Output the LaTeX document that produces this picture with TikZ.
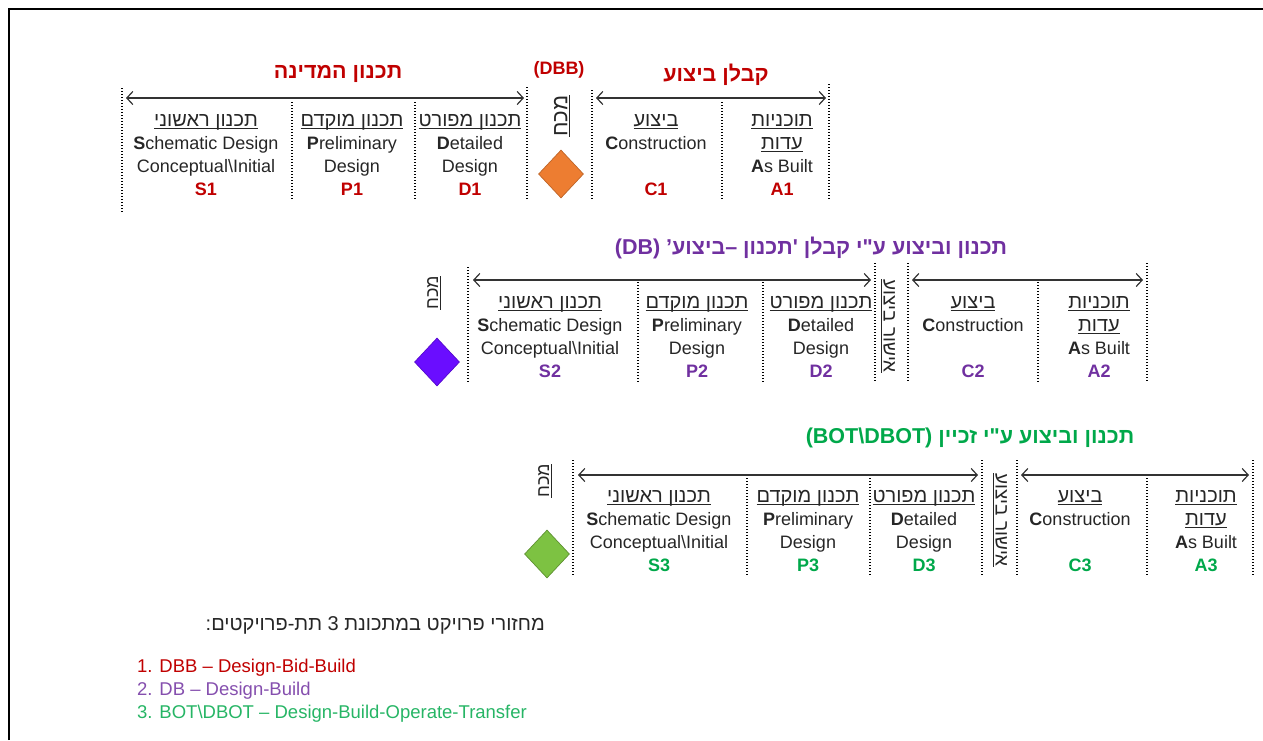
\documentclass[tikz,border=0pt]{standalone}
\usepackage{fontspec}
\setmainfont{Liberation Sans}
\newfontfamily\heb[Script=Hebrew]{Liberation Sans}
\TeXXeTstate=1
\usetikzlibrary{arrows.meta,shapes.geometric}
\definecolor{cred}{HTML}{C00000}
\definecolor{cpur}{HTML}{7030A0}
\definecolor{cgrn}{HTML}{00A84A}
\definecolor{corg}{HTML}{ED7D31}
\definecolor{cvio}{HTML}{6A0DFF}
\definecolor{clime}{HTML}{7DC242}
\newcommand\hr[1]{{\heb\beginR #1\endR}}
\newcommand\hu[1]{\setbox0\hbox{\hr{#1}}\rlap{\rule[-2.6pt]{\wd0}{0.9pt}}\box0}
\newcommand\hcol[1]{{\fontsize{20}{23}\selectfont\hu{#1}}}
\tikzset{
  col/.style={align=center, inner sep=0pt, font=\fontsize{18}{23}\selectfont, text=black!85},
  sepline/.style={line width=1.3pt, dash pattern=on 1.3pt off 1.7pt, black},
  arr/.style={{Straight Barb[length=6pt,width=13pt]}-{Straight Barb[length=6pt,width=13pt]}, line width=1.2pt, black!80},
  ttl/.style={inner sep=0pt, font=\heb\bfseries\fontsize{21.5}{24}\selectfont},
  rot/.style={inner sep=0pt, text=black!85},
  dia/.style={diamond, inner sep=0pt, minimum width=45pt, minimum height=48pt, line width=0.7pt},
  leg/.style={anchor=west, inner sep=0pt, font=\fontsize{18.5}{21}\selectfont}
}
\begin{document}
\begin{tikzpicture}[x=1pt,y=-1pt]
\useasboundingbox (0,0) rectangle (1263,740);
\draw[line width=1.3pt] (9,740) -- (9,9) -- (1263,9);

% ---------- Row 1 : DBB ----------
\node[ttl, text=cred] (t1a) at (338,74) {\beginR תכנון המדינה\endR};
\node[inner sep=0pt, text=cred, font=\bfseries\fontsize{18}{20}\selectfont] (t1b) at (559,70) {(DBB)};
\node[ttl, text=cred] (t1c) at (716,75) {\beginR קבלן ביצוע\endR};
\draw[sepline] (122,88) -- (122,212);
\draw[sepline] (292,102) -- (292,200);
\draw[sepline] (415,102) -- (415,200);
\draw[sepline] (527,87) -- (527,200);
\draw[sepline] (592,90) -- (592,200);
\draw[sepline] (722,102) -- (722,200);
\draw[sepline] (829,84) -- (829,200);
\coordinate (a1l) at (126,98); \coordinate (a1r) at (524,98);
\coordinate (b1l) at (596,98); \coordinate (b1r) at (826,98);
\draw[arr] (a1l) -- (a1r);
\draw[arr] (b1l) -- (b1r);
\node[col] (s1) at (206,156) {\hcol{תכנון ראשוני}\strut\\ \textbf{S}chematic Design\\ Conceptual\textbackslash Initial\\ \textcolor{cred}{\textbf{S1}}\strut};
\node[col] (p1) at (352,156) {\hcol{תכנון מוקדם}\strut\\ \textbf{P}reliminary\\ Design\\ \textcolor{cred}{\textbf{P1}}\strut};
\node[col] (d1) at (470,156) {\hcol{תכנון מפורט}\strut\\ \textbf{D}etailed\\ Design\\ \textcolor{cred}{\textbf{D1}}\strut};
\node[col] (c1) at (656,156) {\hcol{ביצוע}\strut\\ \textbf{C}onstruction\\ ~\\ \textcolor{cred}{\textbf{C1}}\strut};
\node[col] (a1) at (782,156) {\hcol{תוכניות}\strut\\ \hcol{עדות}\\ \textbf{A}s Built\\ \textcolor{cred}{\textbf{A1}}\strut};
\node[rot, rotate=90, font=\fontsize{22}{24}\selectfont] (m1) at (562,116) {\hu{מכח}};
\node[dia, fill=corg, draw=corg!80!black] (g1) at (561,174) {};

% ---------- Row 2 : DB ----------
\node[ttl, text=cpur] (t2) at (811,248) {\beginR תכנון וביצוע ע"י קבלן 'תכנון –ביצוע’ \beginL(DB)\endL\endR};
\draw[sepline] (468,267) -- (468,382);
\draw[sepline] (638,282) -- (638,382);
\draw[sepline] (763,282) -- (763,382);
\draw[sepline] (875,263) -- (875,382);
\draw[sepline] (908,263) -- (908,382);
\draw[sepline] (1038,282) -- (1038,382);
\draw[sepline] (1147,263) -- (1147,382);
\coordinate (a2l) at (473,280); \coordinate (a2r) at (871,280);
\coordinate (b2l) at (912,280); \coordinate (b2r) at (1143,280);
\draw[arr] (a2l) -- (a2r);
\draw[arr] (b2l) -- (b2r);
\node[col] (s2) at (550,338) {\hcol{תכנון ראשוני}\strut\\ \textbf{S}chematic Design\\ Conceptual\textbackslash Initial\\ \textcolor{cpur}{\textbf{S2}}\strut};
\node[col] (p2) at (697,338) {\hcol{תכנון מוקדם}\strut\\ \textbf{P}reliminary\\ Design\\ \textcolor{cpur}{\textbf{P2}}\strut};
\node[col] (d2) at (821,338) {\hcol{תכנון מפורט}\strut\\ \textbf{D}etailed\\ Design\\ \textcolor{cpur}{\textbf{D2}}\strut};
\node[col] (c2) at (973,338) {\hcol{ביצוע}\strut\\ \textbf{C}onstruction\\ ~\\ \textcolor{cpur}{\textbf{C2}}\strut};
\node[col] (a2) at (1099,338) {\hcol{תוכניות}\strut\\ \hcol{עדות}\\ \textbf{A}s Built\\ \textcolor{cpur}{\textbf{A2}}\strut};
\node[rot, rotate=90, font=\fontsize{18}{20}\selectfont] (m2) at (434,293) {\hu{מכח}};
\node[rot, rotate=-90, font=\fontsize{19}{21}\selectfont] (x2) at (888,326) {\hu{אישור ביצוע}};
\node[dia, fill=cvio, draw=cvio!80!black] (g2) at (437,362) {};

% ---------- Row 3 : BOT ----------
\node[ttl, text=cgrn] (t3) at (970,438) {\beginR תכנון וביצוע ע"י זכיין \beginL(BOT\textbackslash DBOT)\endL\endR};
\draw[sepline] (573,460) -- (573,575);
\draw[sepline] (747,475) -- (747,575);
\draw[sepline] (870,475) -- (870,575);
\draw[sepline] (982,460) -- (982,575);
\draw[sepline] (1017,460) -- (1017,575);
\draw[sepline] (1147,475) -- (1147,575);
\draw[sepline] (1253,460) -- (1253,575);
\coordinate (a3l) at (578,475); \coordinate (a3r) at (978,475);
\coordinate (b3l) at (1021,475); \coordinate (b3r) at (1249,475);
\draw[arr] (a3l) -- (a3r);
\draw[arr] (b3l) -- (b3r);
\node[col] (s3) at (659,532) {\hcol{תכנון ראשוני}\strut\\ \textbf{S}chematic Design\\ Conceptual\textbackslash Initial\\ \textcolor{cgrn}{\textbf{S3}}\strut};
\node[col] (p3) at (808,532) {\hcol{תכנון מוקדם}\strut\\ \textbf{P}reliminary\\ Design\\ \textcolor{cgrn}{\textbf{P3}}\strut};
\node[col] (d3) at (924,532) {\hcol{תכנון מפורט}\strut\\ \textbf{D}etailed\\ Design\\ \textcolor{cgrn}{\textbf{D3}}\strut};
\node[col] (c3) at (1080,532) {\hcol{ביצוע}\strut\\ \textbf{C}onstruction\\ ~\\ \textcolor{cgrn}{\textbf{C3}}\strut};
\node[col] (a3) at (1206,532) {\hcol{תוכניות}\strut\\ \hcol{עדות}\\ \textbf{A}s Built\\ \textcolor{cgrn}{\textbf{A3}}\strut};
\node[rot, rotate=90, font=\fontsize{18}{20}\selectfont] (m3) at (545,481) {\hu{מכח}};
\node[rot, rotate=-90, font=\fontsize{19}{21}\selectfont] (x3) at (1000,520) {\hu{אישור ביצוע}};
\node[dia, fill=clime, draw=clime!75!black] (g3) at (547,554) {};

% ---------- Legend ----------
\node[anchor=east, inner sep=0pt, text=black!85, font=\heb\fontsize{20}{23}\selectfont] (lh) at (545,625) {\beginR מחזורי פרויקט במתכונת 3 תת-פרויקטים:\endR};
\node[leg, text=cred] (l1) at (137,668) {1. DBB – Design-Bid-Build};
\node[leg, text=cpur!85] (l2) at (137,691) {2. DB – Design-Build};
\node[leg, text=cgrn!85] (l3) at (137,714) {3. BOT\textbackslash DBOT – Design-Build-Operate-Transfer};
\end{tikzpicture}
\end{document}
